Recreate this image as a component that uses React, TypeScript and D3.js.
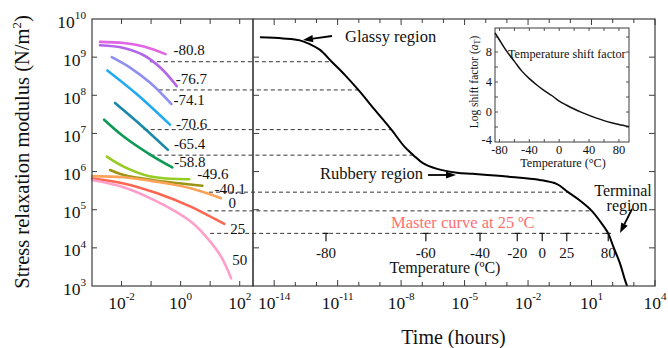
import React from 'react';
import * as d3 from 'd3';

const W = 668;
const H = 348;

// ---------- DATA ----------
// Short-term relaxation curves: log10(time, hours) and log10(modulus, N/m²)
const curveTemps = ['-80.8', '-76.7', '-74.1', '-70.6', '-65.4', '-58.8', '-49.6', '-40.1', '0', '25', '50'];
const shortLogTime: number[][] = [
  [-2.73, -1.93, -1.25, -0.51],
  [-2.73, -1.93, -1.25, -0.68, -0.13],
  [-2.33, -1.7, -1.02, -0.31],
  [-2.48, -1.47, -0.36],
  [-2.22, -1.36, -0.43],
  [-2.59, -1.93, -1.02, -0.28],
  [-2.5, -1.93, -1.02, 0.29],
  [-2.39, -1.93, -0.79, 0.74],
  [-3.0, -1.93, -0.79, 0.34, 1.37],
  [-3.0, -1.93, -0.79, 0.34, 0.91, 1.48],
  [-3.0, -1.93, -0.79, 0.34, 0.91, 1.37, 1.71],
];
const shortLogModulus: number[][] = [
  [9.4, 9.37, 9.28, 9.08],
  [9.31, 9.24, 9.05, 8.72, 8.24],
  [9.0, 8.72, 8.32, 7.77],
  [8.65, 8.02, 7.23],
  [7.8, 7.23, 6.57],
  [7.36, 6.92, 6.44, 6.11],
  [6.39, 6.13, 5.87, 5.8],
  [6.04, 5.91, 5.76, 5.63],
  [5.88, 5.85, 5.73, 5.56, 5.3],
  [5.82, 5.69, 5.43, 5.08, 4.86, 4.63],
  [5.78, 5.59, 5.21, 4.69, 4.25, 3.77, 3.2],
];

// Master curve at 25 ºC
const masterLogTime = [-14.67, -13.58, -12.78, -12.31, -11.83, -11.28, -10.65, -10.02, -9.23, -8.45, -7.82, -7.42, -6.97, -6.3, -5.36, -4.6, -3.0, -1.44, -0.63, -0.11, 0.45, 1.01, 1.4, 1.79, 2.03, 2.34, 2.58, 2.68];
const masterLogModulus = [9.52, 9.49, 9.44, 9.34, 9.19, 8.88, 8.53, 8.14, 7.61, 7.09, 6.64, 6.43, 6.22, 6.07, 5.97, 5.94, 5.87, 5.78, 5.67, 5.46, 5.24, 4.97, 4.7, 4.38, 4.03, 3.6, 3.16, 3.0];

// Horizontal shift guides (log10 modulus level, start log10 time in left panel)
const shiftLevelLogModulus = [8.88, 8.14, 7.1, 6.43, 5.46, 4.97, 4.38];
const shiftStartLogTime = [-1.04, -0.74, -1.25, -1.02, 0.96, 0.91, 1.0];

// Temperature axis on the master curve
const tempAxisLabels = ['-80', '-60', '-40', '-20', '0', '25', '80'];
const tempAxisLogTime = [-11.55, -6.83, -4.27, -2.51, -1.33, -0.17, 1.79];

// Inset: temperature shift factor
const insetTemps = [-86, -80, -75, -70, -60, -50, -40, -30, -20, -10, 0, 10, 20, 30, 40, 50, 60, 70, 80, 93.5];
const insetLogShift = [10.55, 9.6, 8.8, 8.05, 6.75, 5.45, 4.45, 3.6, 2.85, 2.2, 1.45, 0.9, 0.4, -0.05, -0.45, -0.82, -1.15, -1.43, -1.68, -1.95];

// Tick labels
const yTickExp = [3, 4, 5, 6, 7, 8, 9, 10];
const leftXTickExp = [-2, 0, 2];
const leftXTickAll = [-2, -1, 0, 1, 2];
const rightXTickExp = [-14, -11, -8, -5, -2, 1, 4];
const insetXTicks = [-80, -40, 0, 40, 80];
const insetYTicks = [-4, 0, 4, 8];

// ---------- STYLE ----------
const curveColors = ['#e066e3', '#b266e8', '#8f8ff2', '#22aaf0', '#1a88a8', '#0d9a55', '#95cc22', '#9c9412', '#ffa25a', '#ff6652', '#ff9ec8'];
const labelOffsets: [number, number][] = [
  [8, -4], [-1, -7], [2, -4], [6, -1], [6, -6], [2, -5], [8, -5], [12, 3], [7.5, 5], [6, 5], [1, -18],
];
const FONT = "'Liberation Serif', 'Times New Roman', Times, serif";
const AXIS = '#3c3c3c';

const xL = d3.scaleLog().domain([1e-3, Math.pow(10, 2.45)]).range([92, 253]);
const xR = d3.scaleLog().domain([1e-15, 1e4]).range([253, 655]);
const y = d3.scaleLog().domain([1e3, 1e10]).range([286, 19]);
const xI = d3.scaleLinear().domain([-86, 93.5]).range([495, 629]);
const yI = d3.scaleLinear().domain([-4, 11.2]).range([142, 28]);

const p10 = (v: number) => Math.pow(10, v);

function masterTimeAt(logE: number): number {
  for (let i = 0; i < masterLogModulus.length - 1; i++) {
    const a = masterLogModulus[i];
    const b = masterLogModulus[i + 1];
    if ((logE <= a && logE >= b) || (logE >= a && logE <= b)) {
      const f = (logE - a) / (b - a);
      return masterLogTime[i] + f * (masterLogTime[i + 1] - masterLogTime[i]);
    }
  }
  return masterLogTime[masterLogTime.length - 1];
}

function Pow({ x, yy, exp, anchor, size = 17.5 }: { x: number; yy: number; exp: string; anchor: string; size?: number }) {
  return (
    <text x={x} y={yy} textAnchor={anchor as any} fontSize={size} fill="#111">
      10<tspan dy={-0.5 * size} fontSize={size * 0.64}>{exp}</tspan>
    </text>
  );
}

function Arrow({ x1, y1, x2, y2 }: { x1: number; y1: number; x2: number; y2: number }) {
  const ang = Math.atan2(y2 - y1, x2 - x1);
  const L = 10;
  const hw = 3.6;
  const bx = x2 - L * Math.cos(ang);
  const by = y2 - L * Math.sin(ang);
  const px = -Math.sin(ang) * hw;
  const py = Math.cos(ang) * hw;
  return (
    <g>
      <line x1={x1} y1={y1} x2={bx} y2={by} stroke="#000" strokeWidth={1.8} />
      <polygon points={`${x2},${y2} ${bx + px},${by + py} ${bx - px},${by - py}`} fill="#000" />
    </g>
  );
}

export default function App() {
  const line = d3
    .line<[number, number]>()
    .curve(d3.curveCatmullRom.alpha(0.5));

  const leftPaths = shortLogTime.map((ts, i) => {
    const pts: [number, number][] = ts.map((t, j) => [xL(p10(t)), y(p10(shortLogModulus[i][j]))]);
    return line(pts) || '';
  });

  const masterPts: [number, number][] = masterLogTime.map((t, j) => [xR(p10(t)), y(p10(masterLogModulus[j]))]);
  const masterPath = line(masterPts) || '';

  const insetPts: [number, number][] = insetTemps.map((t, j) => [xI(t), yI(insetLogShift[j])]);
  const insetPath = line(insetPts) || '';

  const rightDecades = d3.range(-14, 5);
  const yDecades = d3.range(4, 10);

  return (
    <svg width={W} height={H} style={{ position: 'absolute', left: 0, top: 0, background: '#fff' }} fontFamily={FONT}>
      <rect x={0} y={0} width={W} height={H} fill="#fff" />

      {/* dashed shift guides */}
      {shiftLevelLogModulus.map((lv, i) => (
        <line
          key={'d' + i}
          x1={xL(p10(shiftStartLogTime[i]))}
          x2={xR(p10(masterTimeAt(lv)))}
          y1={y(p10(lv))}
          y2={y(p10(lv))}
          stroke="#333"
          strokeWidth={1}
          strokeDasharray="4,3"
        />
      ))}

      {/* left panel curves */}
      {leftPaths.map((d, i) => (
        <path key={'c' + i} d={d} fill="none" stroke={curveColors[i]} strokeWidth={2.6} strokeLinecap="round" />
      ))}
      {curveTemps.map((lab, i) => {
        const n = shortLogTime[i].length - 1;
        const ex = xL(p10(shortLogTime[i][n]));
        const ey = y(p10(shortLogModulus[i][n]));
        return (
          <text key={'l' + i} x={ex + labelOffsets[i][0]} y={ey + labelOffsets[i][1] + 5} fontSize={15} fill="#111">
            {lab}
          </text>
        );
      })}

      {/* master curve */}
      <path d={masterPath} fill="none" stroke="#000" strokeWidth={2} />

      {/* panel frames */}
      <rect x={92} y={19} width={161} height={267} fill="none" stroke={AXIS} strokeWidth={1.2} />
      <rect x={253} y={19} width={402} height={267} fill="none" stroke={AXIS} strokeWidth={1.2} />

      {/* ticks */}
      {yDecades.map((e) => (
        <g key={'yt' + e}>
          <line x1={92} x2={97} y1={y(p10(e))} y2={y(p10(e))} stroke={AXIS} strokeWidth={1} />
          <line x1={253} x2={259} y1={y(p10(e))} y2={y(p10(e))} stroke={AXIS} strokeWidth={1} />
          <line x1={655} x2={649} y1={y(p10(e))} y2={y(p10(e))} stroke={AXIS} strokeWidth={1} />
        </g>
      ))}
      {leftXTickAll.map((e) => (
        <g key={'lx' + e}>
          <line x1={xL(p10(e))} x2={xL(p10(e))} y1={286} y2={281} stroke={AXIS} strokeWidth={1} />
          <line x1={xL(p10(e))} x2={xL(p10(e))} y1={19} y2={24} stroke={AXIS} strokeWidth={1} />
        </g>
      ))}
      {rightDecades.map((e) => {
        const major = rightXTickExp.includes(e);
        const len = major ? 6 : 4;
        return (
          <g key={'rx' + e}>
            <line x1={xR(p10(e))} x2={xR(p10(e))} y1={286} y2={286 - len} stroke={AXIS} strokeWidth={1} />
            <line x1={xR(p10(e))} x2={xR(p10(e))} y1={19} y2={19 + len} stroke={AXIS} strokeWidth={1} />
          </g>
        );
      })}

      {/* tick labels */}
      {yTickExp.map((e) => (
        <Pow key={'yl' + e} x={86} yy={y(p10(e)) + 8.5} exp={String(e)} anchor="end" />
      ))}
      {leftXTickExp.map((e) => (
        <Pow key={'xl' + e} x={xL(p10(e))} yy={309} exp={String(e)} anchor="middle" />
      ))}
      {rightXTickExp.map((e) => (
        <Pow key={'xr' + e} x={e === 4 ? 655 : xR(p10(e))} yy={309} exp={String(e)} anchor="middle" />
      ))}

      {/* axis titles */}
      <text transform="translate(28.5,152) rotate(-90)" textAnchor="middle" fontSize={20.5} fill="#111">
        Stress relaxation modulus (N/m<tspan dy={-8} fontSize={13}>2</tspan>
        <tspan dy={8}>)</tspan>
      </text>
      <text x={453.5} y={344} textAnchor="middle" fontSize={20} fill="#111">
        Time (hours)
      </text>

      {/* temperature axis on master curve */}
      {tempAxisLogTime.map((t, i) => {
        const x = xR(p10(t));
        const yy = y(p10(shiftLevelLogModulus[6]));
        return (
          <g key={'ta' + i}>
            <line x1={x - 2.5} x2={x + 2.5} y1={yy} y2={yy} stroke="#111" strokeWidth={1.2} />
            <line x1={x} x2={x} y1={yy} y2={yy + 8} stroke="#111" strokeWidth={1.2} />
            <text x={x} y={257.5} textAnchor="middle" fontSize={15} fill="#111">
              {tempAxisLabels[i]}
            </text>
          </g>
        );
      })}
      <text x={445} y={273} textAnchor="middle" fontSize={16} fill="#111">
        Temperature (ºC)
      </text>

      {/* annotations */}
      <text x={345} y={41.5} fontSize={16.5} fill="#111">Glassy region</text>
      <Arrow x1={332} y1={36} x2={303} y2={40} />
      <text x={320} y={179} fontSize={16.5} fill="#111">Rubbery region</text>
      <Arrow x1={428} y1={175} x2={456} y2={175} />
      <text x={623} y={195.5} textAnchor="middle" fontSize={16} fill="#111">Terminal</text>
      <text x={627} y={211} textAnchor="middle" fontSize={16} fill="#111">region</text>
      <Arrow x1={632} y1={209} x2={620} y2={233} />
      <text x={391} y={227.5} fontSize={16.5} fill="#ff6f6f">Master curve at 25 ºC</text>

      {/* inset */}
      <rect x={495} y={28} width={134} height={114} fill="#fff" stroke={AXIS} strokeWidth={1} />
      {d3.range(-80, 81, 20).map((t) => (
        <g key={'ix' + t}>
          <line x1={xI(t)} x2={xI(t)} y1={142} y2={139} stroke={AXIS} strokeWidth={0.9} />
          <line x1={xI(t)} x2={xI(t)} y1={28} y2={31} stroke={AXIS} strokeWidth={0.9} />
        </g>
      ))}
      {d3.range(-2, 11, 2).map((v) => (
        <g key={'iy' + v}>
          <line x1={495} x2={498} y1={yI(v)} y2={yI(v)} stroke={AXIS} strokeWidth={0.9} />
          <line x1={629} x2={626} y1={yI(v)} y2={yI(v)} stroke={AXIS} strokeWidth={0.9} />
        </g>
      ))}
      <path d={insetPath} fill="none" stroke="#111" strokeWidth={1.5} />
      {insetXTicks.map((t) => (
        <text key={'ixl' + t} x={xI(t)} y={154} textAnchor="middle" fontSize={12.5} fill="#111">
          {t}
        </text>
      ))}
      {insetYTicks.map((v) => (
        <text key={'iyl' + v} x={492} y={(v === -4 ? yI(v) - 2 : yI(v)) + 4.3} textAnchor="end" fontSize={12.5} fill="#111">
          {v}
        </text>
      ))}
      <text x={563} y={167} textAnchor="middle" fontSize={12.2} fill="#111">
        Temperature (°C)
      </text>
      <text x={508} y={58} fontSize={12.2} fill="#111">
        Temperature shift factor
      </text>
      <text transform="translate(477.5,82) rotate(-90)" textAnchor="middle" fontSize={11.5} fill="#111">
        Log shift factor (<tspan fontStyle="italic">a</tspan>
        <tspan fontSize={8} dy={2}>T</tspan>
        <tspan dy={-2}>)</tspan>
      </text>
    </svg>
  );
}
